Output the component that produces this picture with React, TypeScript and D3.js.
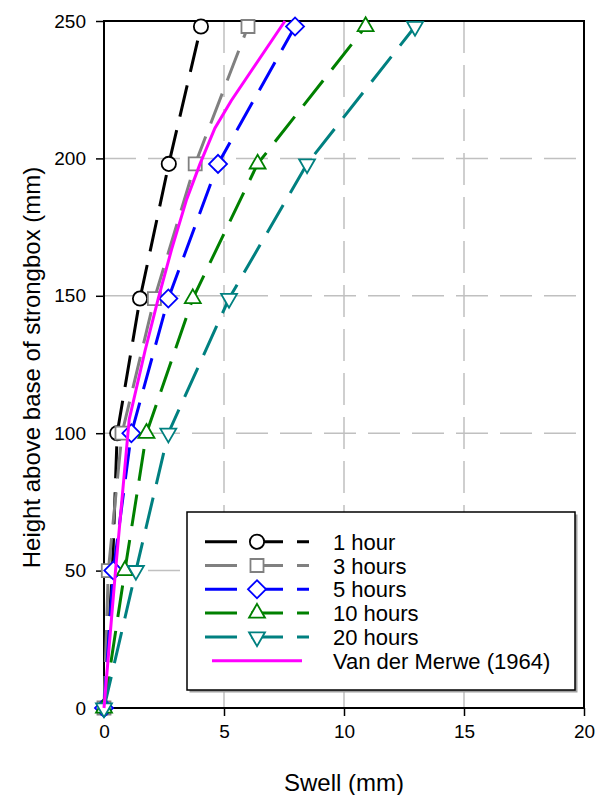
import React, { useEffect, useRef } from "react";
import * as d3 from "d3";

// heights (mm) at which swell was measured
const heights = [0, 50, 100, 149, 198, 248];
const oneHour = [0, 0.35, 0.55, 1.5, 2.7, 4.04];
const threeHours = [0, 0.18, 0.75, 2.1, 3.8, 6.0];
const fiveHours = [0, 0.39, 1.14, 2.68, 4.75, 7.96];
const tenHours = [0, 0.87, 1.77, 3.7, 6.4, 10.9];
const twentyHours = [0, 1.33, 2.68, 5.21, 8.46, 12.96];

// Van der Merwe (1964) curve
const vdmHeights = [0, 50, 105, 130, 149, 167, 185, 198, 211, 221, 250];
const vdmSwell = [0, 0.48, 1.05, 1.71, 2.26, 2.82, 3.44, 4.0, 4.62, 5.3, 7.54];

const seriesNames = ["1 hour", "3 hours", "5 hours", "10 hours", "20 hours"];
const seriesValues = [oneHour, threeHours, fiveHours, tenHours, twentyHours];
const seriesColors = ["#000000", "#808080", "#0000ff", "#008000", "#008080"];
const seriesShapes = ["circle", "square", "diamond", "triangle", "triangleDown"];
const vdmName = "Van der Merwe (1964)";

const xTicks = [0, 5, 10, 15, 20];
const yTicks = [0, 50, 100, 150, 200, 250];

const W = 598;
const H = 795;
const margin = { left: 104, top: 21, right: 14, bottom: 87 };
const FONT = "Arial, 'Liberation Sans', sans-serif";

function marker(shape: string) {
  if (shape === "circle") return { path: d3.symbol(d3.symbolCircle, 160)(), rot: 0 };
  if (shape === "square") return { path: d3.symbol(d3.symbolSquare, 170)(), rot: 0 };
  if (shape === "diamond") return { path: d3.symbol(d3.symbolSquare, 162)(), rot: 45 };
  if (shape === "triangle") return { path: d3.symbol(d3.symbolTriangle, 110)(), rot: 0 };
  return { path: d3.symbol(d3.symbolTriangle, 110)(), rot: 180 };
}

const App = () => {
  const svgRef = useRef<SVGSVGElement>(null);

  useEffect(() => {
    const svg = d3.select(svgRef.current);
    svg.selectAll("*").remove();

    const x = d3.scaleLinear().domain([0, 20]).range([margin.left, W - margin.right + 0]);
    const y = d3.scaleLinear().domain([0, 250]).range([H - margin.bottom, margin.top]);
    const x0 = x(0), x1 = x(20), y0 = y(0), y1 = y(250);

    // grid
    const grid = svg.append("g").attr("stroke", "#c0c0c0").attr("stroke-width", 1.5)
      .attr("stroke-dasharray", "32,12");
    grid.selectAll(".vg").data(xTicks.slice(1, -1)).join("line")
      .attr("x1", (d) => x(d)).attr("x2", (d) => x(d)).attr("y1", y1).attr("y2", y0);
    grid.selectAll(".hg").data(yTicks.slice(1, -1)).join("line")
      .attr("y1", (d) => y(d)).attr("y2", (d) => y(d)).attr("x1", x0).attr("x2", x1);

    // legend box (drawn before data so curves stay visible)
    const lg = svg.append("g");
    const lx = 187, ly = 512, lw = 388, lh = 178;
    lg.append("rect").attr("x", lx + 2.5).attr("y", ly + 2.5).attr("width", lw).attr("height", lh)
      .attr("fill", "#a0a0a0");
    lg.append("rect").attr("x", lx).attr("y", ly).attr("width", lw).attr("height", lh)
      .attr("fill", "#fff").attr("stroke", "#000").attr("stroke-width", 1.5);

    // axes lines & ticks
    const ax = svg.append("g").attr("font-family", FONT);
    const xAxis = d3.axisBottom(x).tickValues(xTicks).tickSize(8).tickPadding(9)
      .tickFormat(d3.format("d"));
    ax.append("g").attr("transform", `translate(0,${y0})`).call(xAxis)
      .call((g) => g.select(".domain").remove())
      .call((g) => g.selectAll("line").attr("stroke-width", 1.5))
      .call((g) => g.selectAll("text").attr("font-size", 19).attr("font-family", FONT).attr("fill", "#000"));
    const yAxis = d3.axisLeft(y).tickValues(yTicks).tickSize(8).tickPadding(10)
      .tickFormat(d3.format("d"));
    ax.append("g").attr("transform", `translate(${x0},0)`).call(yAxis)
      .call((g) => g.select(".domain").remove())
      .call((g) => g.selectAll("line").attr("stroke-width", 1.5))
      .call((g) => g.selectAll("text").attr("font-size", 19).attr("font-family", FONT).attr("fill", "#000"));
    ax.append("rect").attr("x", x0).attr("y", y1).attr("width", x1 - x0).attr("height", y0 - y1)
      .attr("fill", "none").attr("stroke", "#000").attr("stroke-width", 2);

    // data series
    const line = d3.line<[number, number]>().x((d) => x(d[0])).y((d) => y(d[1]));
    seriesValues.forEach((vals, i) => {
      const pts: [number, number][] = vals.map((v, j) => [v, heights[j]]);
      const g = svg.append("g");
      g.append("path").attr("d", line(pts)).attr("fill", "none")
        .attr("stroke", seriesColors[i]).attr("stroke-width", 3)
        .attr("stroke-dasharray", "32,14");
      const m = marker(seriesShapes[i]);
      g.selectAll("path.mk").data(pts).join("path").attr("class", "mk")
        .attr("d", m.path)
        .attr("transform", (d) => `translate(${x(d[0])},${y(d[1])}) rotate(${m.rot})`)
        .attr("fill", "#fff").attr("stroke", seriesColors[i]).attr("stroke-width", 1.8);
    });

    const vdmPts: [number, number][] = vdmSwell.map((v, j) => [v, vdmHeights[j]]);
    svg.append("path").attr("d", line(vdmPts)).attr("fill", "none")
      .attr("stroke", "#ff00ff").attr("stroke-width", 3);

    // legend entries
    const rowY = d3.range(6).map((k) => 541.7 + k * 23.8);
    seriesNames.forEach((name, i) => {
      const g = lg.append("g");
      g.append("line").attr("x1", 205).attr("x2", 309).attr("y1", rowY[i]).attr("y2", rowY[i])
        .attr("stroke", seriesColors[i]).attr("stroke-width", 3).attr("stroke-dasharray", "32,14");
      const m = marker(seriesShapes[i]);
      g.append("path").attr("d", m.path)
        .attr("transform", `translate(257,${rowY[i]}) rotate(${m.rot})`)
        .attr("fill", "#fff").attr("stroke", seriesColors[i]).attr("stroke-width", 1.8);
      g.append("text").attr("x", 333).attr("y", rowY[i] + 8).attr("font-size", 22)
        .attr("font-family", FONT).text(name);
    });
    lg.append("line").attr("x1", 212).attr("x2", 302).attr("y1", rowY[5]).attr("y2", rowY[5])
      .attr("stroke", "#ff00ff").attr("stroke-width", 3);
    lg.append("text").attr("x", 333).attr("y", rowY[5] + 8).attr("font-size", 22)
      .attr("font-family", FONT).text(vdmName);

    // titles
    svg.append("text").attr("x", (x0 + x1) / 2).attr("y", 791).attr("text-anchor", "middle")
      .attr("font-size", 24).attr("font-family", FONT).text("Swell (mm)");
    svg.append("text").attr("transform", `translate(40,${(y0 + y1) / 2 + 3}) rotate(-90)`)
      .attr("text-anchor", "middle").attr("font-size", 24).attr("font-family", FONT)
      .text("Height above base of strongbox (mm)");
  }, []);

  return (
    <svg ref={svgRef} width={W} height={H}
      style={{ position: "absolute", left: 0, top: 0, background: "#fff" }} />
  );
};

export default App;
